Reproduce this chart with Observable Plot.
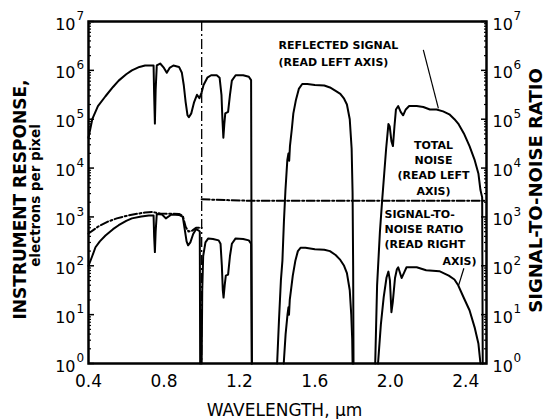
<!DOCTYPE html>
<html><head><meta charset="utf-8">
<script src="https://cdn.jsdelivr.net/npm/d3@7"></script>
<script src="https://cdn.jsdelivr.net/npm/@observablehq/plot@0.6"></script>
<style>body{margin:0;background:#fff}#chart svg{display:block}</style>
</head><body><div id="chart"></div>
<script>
// Wavelength (µm) and log10 of value
const signalVnirSwir1 = [[0.4,4.62],[0.42,5.0],[0.45,5.27],[0.49,5.47],[0.53,5.66],[0.56,5.79],[0.6,5.92],[0.63,6.0],[0.67,6.07],[0.7,6.1],[0.745,6.1],[0.748,5.5],[0.752,4.91],[0.756,5.6],[0.762,6.1],[0.78,6.14],[0.8,6.05],[0.815,5.95],[0.83,6.05],[0.85,6.1],[0.88,6.07],[0.895,5.95],[0.905,5.7],[0.915,5.35],[0.925,5.08],[0.932,5.04],[0.945,5.12],[0.96,5.35],[0.975,5.5],[0.988,5.43],[1.0,5.55],[1.01,5.7],[1.03,5.85],[1.05,5.9],[1.08,5.9],[1.095,5.85],[1.105,5.5],[1.11,5.0],[1.115,4.62],[1.12,4.9],[1.125,5.12],[1.14,5.15],[1.15,5.5],[1.16,5.79],[1.18,5.9],[1.22,5.9],[1.25,5.87],[1.262,5.8],[1.266,0]];
const signalSwir2 = [[1.4,0],[1.41,0.9],[1.42,1.7],[1.428,2.1],[1.436,2.9],[1.444,3.54],[1.454,4.16],[1.46,4.3],[1.464,4.15],[1.468,4.45],[1.478,4.8],[1.486,5.12],[1.5,5.4],[1.515,5.62],[1.533,5.72],[1.56,5.72],[1.6,5.7],[1.65,5.69],[1.68,5.65],[1.71,5.58],[1.735,5.52],[1.755,5.42],[1.77,5.3],[1.785,5.0],[1.795,4.4],[1.8,3.5],[1.803,2.0],[1.805,0]];
const signalSwir3 = [[1.92,0],[1.93,1.6],[1.945,2.7],[1.957,3.35],[1.968,3.9],[1.978,4.4],[1.99,4.9],[1.997,4.85],[2.006,4.55],[2.014,4.45],[2.022,4.85],[2.03,5.2],[2.042,5.27],[2.055,5.15],[2.068,5.08],[2.082,5.2],[2.1,5.27],[2.14,5.27],[2.175,5.25],[2.21,5.2],[2.245,5.2],[2.28,5.16],[2.313,5.1],[2.34,5.0],[2.36,4.91],[2.39,4.71],[2.42,4.45],[2.446,4.18],[2.467,3.89],[2.478,3.55],[2.487,3.4],[2.49,0]];

const snrVnir = [[0.4,2.0],[0.42,2.2],[0.437,2.38],[0.46,2.5],[0.49,2.62],[0.53,2.75],[0.56,2.83],[0.6,2.92],[0.63,2.97],[0.68,3.01],[0.72,3.03],[0.745,3.03],[0.748,2.6],[0.752,2.28],[0.756,2.7],[0.762,3.06],[0.79,3.05],[0.81,2.97],[0.84,3.05],[0.88,3.04],[0.9,3.0],[0.91,2.75],[0.92,2.5],[0.928,2.42],[0.94,2.48],[0.955,2.65],[0.97,2.75],[0.985,2.72],[0.99,2.7],[0.992,0]];
const snrSwir1 = [[1.0,0],[1.003,1.5],[1.008,2.2],[1.02,2.48],[1.035,2.56],[1.06,2.55],[1.09,2.52],[1.1,2.45],[1.107,2.0],[1.112,1.5],[1.116,1.35],[1.122,1.6],[1.128,1.8],[1.14,1.82],[1.15,2.2],[1.16,2.45],[1.18,2.56],[1.22,2.55],[1.25,2.52],[1.262,2.45],[1.266,0]];
const snrSwir2 = [[1.435,0],[1.445,0.6],[1.455,1.0],[1.46,1.15],[1.463,1.0],[1.467,1.3],[1.475,1.55],[1.483,1.8],[1.497,2.11],[1.51,2.3],[1.525,2.37],[1.55,2.37],[1.6,2.34],[1.65,2.33],[1.68,2.3],[1.71,2.22],[1.735,2.12],[1.755,2.0],[1.77,1.85],[1.785,1.5],[1.793,1.0],[1.798,0.5],[1.8,0]];
const snrSwir3 = [[1.935,0],[1.95,0.8],[1.965,1.36],[1.98,1.76],[1.99,1.88],[1.998,1.7],[2.006,1.05],[2.013,1.25],[2.025,1.75],[2.035,1.93],[2.042,1.97],[2.06,1.75],[2.072,1.85],[2.086,1.97],[2.14,1.97],[2.19,1.91],[2.26,1.89],[2.31,1.8],[2.34,1.72],[2.36,1.6],[2.39,1.34],[2.42,1.09],[2.447,0.74],[2.467,0.41],[2.478,0]];

const noiseVnir = [[0.4,2.66],[0.45,2.8],[0.5,2.9],[0.55,2.97],[0.6,3.02],[0.65,3.06],[0.7,3.09],[0.74,3.1],[0.78,3.07],[0.88,3.06],[0.9,3.02],[0.915,2.8],[0.93,2.7],[0.95,2.72],[0.97,2.78],[1.0,2.78]];
const noiseSwir = [[1.0,3.36],[1.26,3.33],[2.51,3.33]];

const detectorSplit = [1.0];

const xTicks = [0.4, 0.8, 1.2, 1.6, 2.0, 2.4];
const xTickLabels = ["0.4", "0.8", "1.2", "1.6", "2.0", "2.4"];
const yDecades = [1, 10, 100, 1e3, 1e4, 1e5, 1e6, 1e7];
const yExponents = ["0", "1", "2", "3", "4", "5", "6", "7"];

const annotStart = [
  {w: 1.407, e: 6.51, t: "REFLECTED SIGNAL"},
  {w: 1.407, e: 6.16, t: "(READ LEFT AXIS)"},
  {w: 1.969, e: 3.05, t: "SIGNAL-TO-"},
  {w: 1.969, e: 2.75, t: "NOISE RATIO"},
  {w: 1.969, e: 2.44, t: "(READ RIGHT"}
];
const annotMiddle = [
  {w: 2.229, e: 4.46, t: "TOTAL"},
  {w: 2.229, e: 4.16, t: "NOISE"},
  {w: 2.229, e: 3.85, t: "(READ LEFT"},
  {w: 2.229, e: 3.52, t: "AXIS)"}
];
const annotEnd = [{w: 2.457, e: 2.09, t: "AXIS)"}];
const leaders = [
  {w1: 2.175, e1: 6.42, w2: 2.255, e2: 5.22},
  {w1: 2.39, e1: 1.95, w2: 2.362, e2: 1.6}
];

const toRows = (segs) => segs.flatMap((arr, s) => arr.map(([w, e]) => ({w, v: 10 ** e, seg: s})));
const signal = toRows([signalVnirSwir1, signalSwir2, signalSwir3]);
const snr = toRows([snrVnir, snrSwir1, snrSwir2, snrSwir3]);
const noise = toRows([noiseVnir, noiseSwir]);
const yTable = yDecades.map((v, i) => ({v, e: yExponents[i]}));
const yMinor = d3.scaleLog().domain([1, 1e7]).ticks().filter(v => !yDecades.includes(v));
const pt = (a) => a.map(d => ({...d, v: 10 ** d.e}));

const chart = Plot.plot({
  width: 552, height: 419,
  marginTop: 21, marginBottom: 56, marginLeft: 88, marginRight: 66,
  x: {domain: [0.4, 2.51], axis: null},
  y: {type: "log", domain: [1, 1e7], axis: null},
  style: {fontFamily: "'DejaVu Sans', sans-serif", background: "#fff", color: "#000"},
  marks: [
    Plot.ruleX(detectorSplit, {stroke: "#000", strokeWidth: 1.3, strokeDasharray: "10,3,2,3"}),
    Plot.line(noise, {x: "w", y: "v", z: "seg", stroke: "#000", strokeWidth: 2, strokeDasharray: "8,2.5,2,2.5"}),
    Plot.line(signal, {x: "w", y: "v", z: "seg", stroke: "#000", strokeWidth: 2, strokeLinejoin: "round"}),
    Plot.line(snr, {x: "w", y: "v", z: "seg", stroke: "#000", strokeWidth: 2, strokeLinejoin: "round"}),
    Plot.link(leaders, {x1: "w1", y1: d => 10 ** d.e1, x2: "w2", y2: d => 10 ** d.e2, stroke: "#000", strokeWidth: 1.2}),
    Plot.text(pt(annotStart), {x: "w", y: "v", text: "t", textAnchor: "start", fontSize: 11, fontWeight: "bold", ariaLabel: "annot"}),
    Plot.text(pt(annotMiddle), {x: "w", y: "v", text: "t", textAnchor: "middle", fontSize: 11, fontWeight: "bold", ariaLabel: "annot"}),
    Plot.text(pt(annotEnd), {x: "w", y: "v", text: "t", textAnchor: "end", fontSize: 11, fontWeight: "bold", ariaLabel: "annot"}),
    Plot.axisY(yDecades, {anchor: "left", tickSize: -6, tickFormat: () => "", strokeWidth: 1.5, label: null}),
    Plot.axisY(yMinor, {anchor: "left", tickSize: -3, tickFormat: () => "", strokeWidth: 1.2, label: null}),
    Plot.axisY(yDecades, {anchor: "right", tickSize: -6, tickFormat: () => "", strokeWidth: 1.5, label: null}),
    Plot.axisY(yMinor, {anchor: "right", tickSize: -3, tickFormat: () => "", strokeWidth: 1.2, label: null}),
    Plot.text(yTable, {y: "v", text: () => "10", frameAnchor: "left", textAnchor: "end", dx: -13, dy: 3, fontSize: 16}),
    Plot.text(yTable, {y: "v", text: "e", frameAnchor: "left", textAnchor: "start", dx: -12, dy: -5, fontSize: 12}),
    Plot.text(yTable, {y: "v", text: () => "10", frameAnchor: "right", textAnchor: "start", dx: 6, dy: 3, fontSize: 16}),
    Plot.text(yTable, {y: "v", text: "e", frameAnchor: "right", textAnchor: "start", dx: 27, dy: -5, fontSize: 12}),
    Plot.text(xTicks, {x: d => d, text: (d, i) => xTickLabels[i], frameAnchor: "bottom", lineAnchor: "middle", dy: 18, fontSize: 17, ariaLabel: "xticklabels"}),
    Plot.text(["WAVELENGTH, μm"], {frameAnchor: "bottom", textAnchor: "middle", lineAnchor: "middle", dx: -3, dy: 47, fontSize: 17, ariaLabel: "xtitle"}),
    Plot.text(["INSTRUMENT RESPONSE,"], {frameAnchor: "left", textAnchor: "middle", lineAnchor: "middle", dx: -68, dy: 7, rotate: -90, fontSize: 17, fontWeight: "bold"}),
    Plot.text(["electrons per pixel"], {frameAnchor: "left", textAnchor: "middle", lineAnchor: "middle", dx: -53, dy: 3, rotate: -90, fontSize: 13.5, fontWeight: "bold"}),
    Plot.text(["SIGNAL-TO-NOISE RATIO"], {frameAnchor: "right", textAnchor: "middle", lineAnchor: "middle", dx: 50, dy: -2, rotate: -90, fontSize: 18, fontWeight: "bold", ariaLabel: "ytitle2"}),
    Plot.frame({stroke: "#000", strokeWidth: 2.5})
  ]
});
const svg = d3.select(chart);
svg.selectAll('g[aria-label="annot"] text').attr("letter-spacing", 0.5);
svg.selectAll('g[aria-label="xticklabels"] text').attr("letter-spacing", 2);
svg.selectAll('g[aria-label="xtitle"] text').attr("letter-spacing", 1.8);
svg.selectAll('g[aria-label="ytitle2"] text').attr("letter-spacing", 0.8);
document.getElementById("chart").append(chart);
</script>
</body></html>
